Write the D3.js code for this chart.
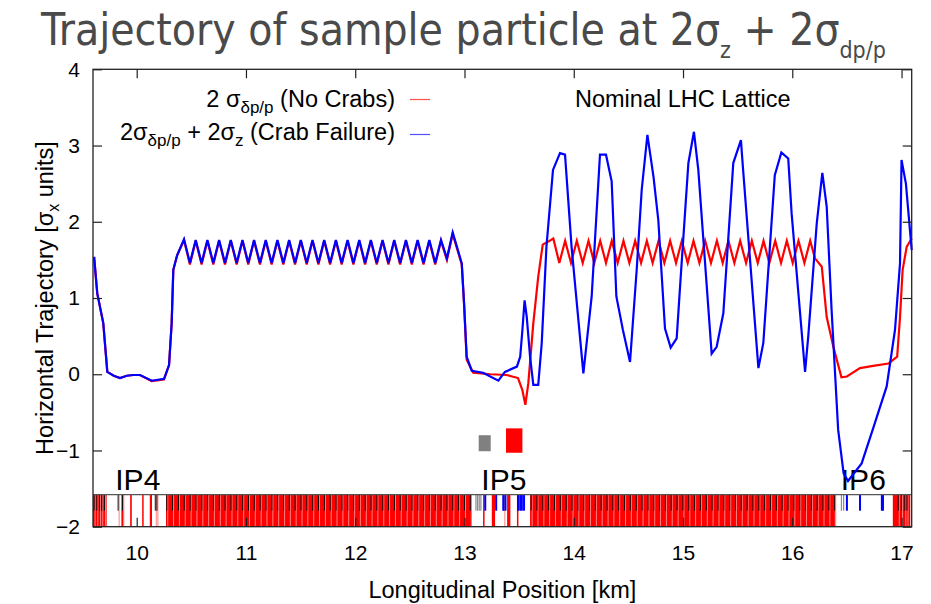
<!DOCTYPE html>
<html>
<head>
<meta charset="utf-8">
<script src="https://cdn.jsdelivr.net/npm/d3@7/dist/d3.min.js"></script>
<style>
  body { margin: 0; background: #fff; }
  text { font-family: "Liberation Sans", Arial, sans-serif; }
</style>
</head>
<body>
<script>
// chart size
var w = 931, h = 604;

// axis ticks
var xTicks = [10, 11, 12, 13, 14, 15, 16, 17];
var yTicks = [-2, -1, 0, 1, 2, 3, 4];

// 2 sigma dp/p, no crabs (red)
var noCrabs = [
  [9.61,1.54],[9.639,1.06],[9.694,0.67],[9.731,0.03],[9.79,-0.02],[9.847,-0.05],[9.91,-0.02],
  [9.969,-0.01],[10.03,-0.01],[10.137,-0.09],[10.25,-0.07],[10.296,0.12],[10.32,0.67],[10.335,1.37],
  [10.37,1.56],[10.433,1.76],[10.487,1.44],[10.540,1.75],[10.594,1.44],[10.647,1.75],[10.701,1.44],
  [10.754,1.75],[10.808,1.44],[10.861,1.75],[10.915,1.44],[10.968,1.75],[11.021,1.44],[11.074,1.75],
  [11.128,1.44],[11.181,1.75],[11.235,1.44],[11.288,1.75],[11.342,1.44],[11.395,1.75],[11.449,1.44],
  [11.502,1.75],[11.556,1.44],[11.609,1.75],[11.663,1.44],[11.716,1.75],[11.770,1.44],[11.823,1.75],
  [11.876,1.44],[11.930,1.75],[11.983,1.44],[12.037,1.75],[12.090,1.44],[12.143,1.75],[12.197,1.44],
  [12.250,1.75],[12.304,1.44],[12.357,1.75],[12.411,1.44],[12.464,1.75],[12.518,1.44],[12.571,1.75],
  [12.625,1.44],[12.678,1.75],[12.732,1.44],[12.785,1.75],[12.839,1.50],[12.892,1.84],[12.975,1.44],
  [12.996,0.93],[13.02,0.19],[13.08,0.02],[13.235,0.0],[13.386,-0.01],[13.49,-0.05],[13.53,-0.21],
  [13.557,-0.40],[13.584,-0.12],[13.63,0.67],[13.675,1.28],[13.716,1.70],[13.767,1.74],[13.813,1.78],
  [13.868,1.46],[13.921,1.75],[13.975,1.46],[14.028,1.75],[14.082,1.46],[14.135,1.75],[14.188,1.46],
  [14.242,1.75],[14.295,1.46],[14.348,1.75],[14.402,1.46],[14.455,1.75],[14.509,1.46],[14.562,1.75],
  [14.616,1.46],[14.669,1.75],[14.722,1.46],[14.776,1.75],[14.829,1.46],[14.882,1.75],[14.936,1.46],
  [14.989,1.75],[15.043,1.46],[15.096,1.75],[15.150,1.46],[15.203,1.75],[15.256,1.46],[15.310,1.75],
  [15.363,1.46],[15.416,1.75],[15.470,1.46],[15.523,1.75],[15.577,1.46],[15.630,1.75],[15.684,1.46],
  [15.737,1.75],[15.790,1.46],[15.844,1.75],[15.897,1.46],[15.950,1.75],[16.004,1.46],[16.057,1.75],
  [16.111,1.46],[16.164,1.75],[16.208,1.52],[16.27,1.41],[16.315,0.75],[16.376,0.36],[16.45,-0.04],
  [16.5,-0.03],[16.62,0.08],[16.74,0.11],[16.88,0.14],[16.96,0.23],[16.986,0.75],[17.01,1.37],
  [17.047,1.67],[17.093,1.78]
];

// 2 sigma dp/p + 2 sigma z, crab failure (blue)
var crabFailure = [
  [9.61,1.54],[9.639,1.06],[9.694,0.67],[9.731,0.03],[9.79,-0.02],[9.847,-0.05],[9.91,-0.02],
  [9.969,-0.01],[10.03,-0.01],[10.137,-0.085],[10.25,-0.06],[10.296,0.12],[10.32,0.67],[10.335,1.37],
  [10.37,1.56],[10.433,1.77],[10.487,1.46],[10.540,1.76],[10.594,1.46],[10.647,1.76],[10.701,1.46],
  [10.754,1.76],[10.808,1.46],[10.861,1.76],[10.915,1.46],[10.968,1.76],[11.021,1.46],[11.074,1.76],
  [11.128,1.46],[11.181,1.76],[11.235,1.46],[11.288,1.76],[11.342,1.46],[11.395,1.76],[11.449,1.46],
  [11.502,1.76],[11.556,1.46],[11.609,1.76],[11.663,1.46],[11.716,1.76],[11.770,1.46],[11.823,1.76],
  [11.876,1.46],[11.930,1.76],[11.983,1.46],[12.037,1.76],[12.090,1.46],[12.143,1.76],[12.197,1.46],
  [12.250,1.76],[12.304,1.46],[12.357,1.76],[12.411,1.46],[12.464,1.76],[12.518,1.46],[12.571,1.76],
  [12.625,1.46],[12.678,1.76],[12.732,1.46],[12.785,1.76],[12.839,1.52],[12.892,1.86],[12.975,1.455],
  [12.996,0.93],[13.02,0.23],[13.066,0.046],[13.17,0.02],[13.31,-0.085],[13.37,0.03],[13.48,0.10],
  [13.51,0.23],[13.53,0.58],[13.55,0.97],[13.57,0.75],[13.60,0.23],[13.63,-0.14],[13.675,-0.14],
  [13.707,0.41],[13.75,1.67],[13.81,2.68],[13.874,2.90],[13.92,2.88],[13.98,1.67],[14.088,0.01],
  [14.164,1.02],[14.24,2.88],[14.295,2.88],[14.347,2.53],[14.39,1.02],[14.45,0.58],[14.515,0.16],
  [14.576,1.37],[14.622,2.42],[14.674,3.14],[14.73,2.59],[14.774,2.02],[14.835,0.60],[14.887,0.35],
  [14.942,0.47],[14.973,1.15],[15.049,2.77],[15.10,3.18],[15.14,2.68],[15.262,0.27],[15.308,0.36],
  [15.369,0.80],[15.46,2.77],[15.53,3.07],[15.55,2.68],[15.69,0.08],[15.735,0.41],[15.84,2.61],
  [15.90,2.91],[15.963,2.83],[15.994,2.11],[16.117,0.03],[16.147,0.51],[16.224,1.98],[16.275,2.64],
  [16.315,2.20],[16.36,0.84],[16.42,-0.73],[16.47,-1.30],[16.51,-1.40],[16.635,-1.17],[16.74,-0.71],
  [16.864,-0.16],[16.94,0.58],[16.986,1.455],[17.0,2.81],[17.04,2.50],[17.077,1.89],[17.093,1.63]
];

// lattice: dipole stretches (red, full strip height) [from, to] in km
var dipoleBands = [
  [9.60,9.725],[9.86,9.885],[9.94,9.955],[10.05,10.06],[10.12,10.14],[10.268,13.066],
  [13.17,13.18],[13.25,13.28],[13.39,13.42],[13.48,13.49],[13.60,16.39],[16.92,17.08]
];

// quadrupoles (black, upper half)
var quads = [
  9.61,9.635,9.66,9.68,9.705,9.83,9.87,10.17,10.185,
  10.275,10.328,10.382,10.435,10.489,10.542,10.596,10.649,10.702,10.756,10.809,10.863,10.916,
  10.970,11.023,11.076,11.130,11.183,11.237,11.290,11.344,11.397,11.450,11.504,11.557,11.611,
  11.664,11.718,11.771,11.824,11.878,11.931,11.985,12.038,12.092,12.145,12.198,12.252,12.305,
  12.359,12.412,12.466,12.519,12.572,12.626,12.679,12.733,12.786,12.840,12.893,12.946,13.000,13.053,
  13.36,
  13.610,13.663,13.717,13.770,13.824,13.877,13.931,13.984,14.037,14.091,14.144,14.198,14.251,
  14.305,14.358,14.411,14.465,14.518,14.572,14.625,14.679,14.732,14.785,14.839,14.892,14.946,
  14.999,15.053,15.106,15.159,15.213,15.266,15.320,15.373,15.427,15.480,15.533,15.587,15.640,
  15.694,15.747,15.801,15.854,15.907,15.961,16.014,16.068,16.121,16.175,16.228,16.281,16.335,16.388,
  16.97,17.0,17.03,17.05
];

// other insertion magnets (grey and blue, upper half)
var greyElems = [13.105,13.12,13.135,13.15,16.45,16.47];
var blueElems = [13.19,13.29,13.355,13.375,13.49,13.51,13.525,13.545,16.50,16.62,16.82,16.83];

// crab cavity boxes [from, to, yLow, yHigh, colour]
var crabBoxes = [
  [13.13,13.24,-1.01,-0.80,"#808080"],
  [13.38,13.53,-1.03,-0.71,"#ff0000"]
];

// interaction points
var ipLabels = [["IP4",10.01],["IP5",13.36],["IP6",16.65]];

// scales
var x = d3.scaleLinear().domain([9.6, 17.093]).range([93, 911.7]);
var y = d3.scaleLinear().domain([-2, 4]).range([526.7, 69.3]);
var stripTop = -1.58;

var svg = d3.select("body").append("svg")
    .attr("width", w)
    .attr("height", h);

// title
var title = svg.append("text")
    .attr("x", 41)
    .attr("y", 45)
    .style("font-family", "'DejaVu Sans Condensed', 'Liberation Sans Narrow', sans-serif")
    .style("font-size", "44px")
    .style("fill", "#4a4a4a");
title.append("tspan").text("Trajectory of sample particle at 2σ");
title.append("tspan").attr("dy", 13).style("font-size", "23px").text("z");
title.append("tspan").attr("dy", -13).text(" + 2σ");
title.append("tspan").attr("dy", 13).style("font-size", "23px").text("dp/p");

// lattice strip
var strip = svg.append("g");
strip.selectAll(".dip")
    .data(dipoleBands)
    .enter()
    .append("rect")
    .attr("x", function(d){ return x(d[0]); })
    .attr("width", function(d){ return Math.max(1.5, x(d[1]) - x(d[0])); })
    .attr("y", y(stripTop))
    .attr("height", y(-2) - y(stripTop))
    .attr("fill", "#ff0000");

// light gaps between dipoles, at the quads
strip.selectAll(".gap")
    .data(quads)
    .enter()
    .append("rect")
    .attr("x", function(d){ return x(d) + 0.5; })
    .attr("width", 1)
    .attr("y", y(stripTop))
    .attr("height", y(-2) - y(stripTop))
    .attr("fill", "#ff8080");

strip.selectAll(".quad")
    .data(quads)
    .enter()
    .append("rect")
    .attr("x", function(d){ return x(d) - 0.5; })
    .attr("width", 1)
    .attr("y", y(stripTop))
    .attr("height", (y(-2) - y(stripTop)) / 2)
    .attr("fill", "#111");

strip.selectAll(".grey")
    .data(greyElems)
    .enter()
    .append("rect")
    .attr("x", function(d){ return x(d) - 0.6; })
    .attr("width", 1.2)
    .attr("y", y(stripTop))
    .attr("height", (y(-2) - y(stripTop)) / 2)
    .attr("fill", "#8a8a8a");

strip.selectAll(".blue")
    .data(blueElems)
    .enter()
    .append("rect")
    .attr("x", function(d){ return x(d) - 1; })
    .attr("width", 2)
    .attr("y", y(stripTop))
    .attr("height", (y(-2) - y(stripTop)) / 2)
    .attr("fill", "#0000ff");

strip.append("line")
    .attr("x1", x(9.6)).attr("x2", x(17.093))
    .attr("y1", y(stripTop)).attr("y2", y(stripTop))
    .attr("stroke", "#555")
    .attr("stroke-width", 1.2);

// crab cavity boxes
svg.selectAll(".crab")
    .data(crabBoxes)
    .enter()
    .append("rect")
    .attr("x", function(d){ return x(d[0]); })
    .attr("width", function(d){ return x(d[1]) - x(d[0]); })
    .attr("y", function(d){ return y(d[3]); })
    .attr("height", function(d){ return y(d[2]) - y(d[3]); })
    .attr("fill", function(d){ return d[4]; });

// IP labels
svg.selectAll(".ip")
    .data(ipLabels)
    .enter()
    .append("text")
    .attr("x", function(d){ return x(d[1]); })
    .attr("y", 490)
    .attr("text-anchor", "middle")
    .style("font-size", "30px")
    .style("fill", "#000")
    .text(function(d){ return d[0]; });

// trajectories
var line = d3.line()
    .x(function(d){ return x(d[0]); })
    .y(function(d){ return y(d[1]); });

svg.append("path")
    .datum(noCrabs)
    .attr("d", line)
    .attr("fill", "none")
    .attr("stroke", "#ff0000")
    .attr("stroke-width", 2.2)
    .attr("stroke-linejoin", "miter");

svg.append("path")
    .datum(crabFailure)
    .attr("d", line)
    .attr("fill", "none")
    .attr("stroke", "#0000ff")
    .attr("stroke-width", 2.2)
    .attr("stroke-linejoin", "miter");

// axes, ticks pointing inward
var axBottom = svg.append("g")
    .attr("transform", "translate(0," + y(-2) + ")")
    .call(d3.axisBottom(x).tickValues(xTicks).tickSize(-9).tickPadding(18).tickFormat(d3.format("d")));
var axLeft = svg.append("g")
    .attr("transform", "translate(" + x(9.6) + ",0)")
    .call(d3.axisLeft(y).tickValues(yTicks).tickSize(-9).tickPadding(13).tickFormat(d3.format("d")));
var axTop = svg.append("g")
    .attr("transform", "translate(0," + y(4) + ")")
    .call(d3.axisTop(x).tickValues(xTicks).tickSize(-9).tickFormat(""));
var axRight = svg.append("g")
    .attr("transform", "translate(" + x(17.093) + ",0)")
    .call(d3.axisRight(y).tickValues(yTicks).tickSize(-9).tickFormat(""));

[axBottom, axLeft, axTop, axRight].forEach(function(g){
    g.select(".domain").remove();
    g.selectAll(".tick line").attr("stroke", "#222").attr("stroke-width", 1.2);
    g.selectAll(".tick text")
        .style("font-family", "'Liberation Sans', Arial, sans-serif")
        .style("font-size", "21px")
        .style("fill", "#000");
});

// frame
svg.append("rect")
    .attr("x", x(9.6))
    .attr("y", y(4))
    .attr("width", x(17.093) - x(9.6))
    .attr("height", y(-2) - y(4))
    .attr("fill", "none")
    .attr("stroke", "#222")
    .attr("stroke-width", 1.3);

// axis titles
svg.append("text")
    .attr("x", (x(9.6) + x(17.093)) / 2)
    .attr("y", 598)
    .attr("text-anchor", "middle")
    .style("font-size", "23.5px")
    .text("Longitudinal Position [km]");

var yt = svg.append("text")
    .attr("transform", "translate(53," + ((y(4) + y(-2)) / 2) + ") rotate(-90)")
    .attr("text-anchor", "middle")
    .style("font-size", "23.5px");
yt.append("tspan").text("Horizontal Trajectory [σ");
yt.append("tspan").attr("dy", 6).style("font-size", "16px").text("x");
yt.append("tspan").attr("dy", -6).text(" units]");

// legend
var leg1 = svg.append("text")
    .attr("x", 395).attr("y", 107)
    .attr("text-anchor", "end")
    .style("font-size", "23.5px");
leg1.append("tspan").text("2 σ");
leg1.append("tspan").attr("dy", 6).style("font-size", "17px").text("δp/p");
leg1.append("tspan").attr("dy", -6).text(" (No Crabs)");

var leg2 = svg.append("text")
    .attr("x", 395).attr("y", 140)
    .attr("text-anchor", "end")
    .style("font-size", "23.5px");
leg2.append("tspan").text("2σ");
leg2.append("tspan").attr("dy", 6).style("font-size", "17px").text("δp/p");
leg2.append("tspan").attr("dy", -6).text(" + 2σ");
leg2.append("tspan").attr("dy", 6).style("font-size", "17px").text("z");
leg2.append("tspan").attr("dy", -6).text(" (Crab Failure)");

svg.append("line")
    .attr("x1", 410).attr("x2", 430).attr("y1", 99.5).attr("y2", 99.5)
    .attr("stroke", "#ff5050").attr("stroke-width", 1.2);
svg.append("line")
    .attr("x1", 410).attr("x2", 430).attr("y1", 134.5).attr("y2", 134.5)
    .attr("stroke", "#5050ff").attr("stroke-width", 1.2);

svg.append("text")
    .attr("x", 575).attr("y", 107)
    .style("font-size", "23.5px")
    .text("Nominal LHC Lattice");
</script>
</body>
</html>
